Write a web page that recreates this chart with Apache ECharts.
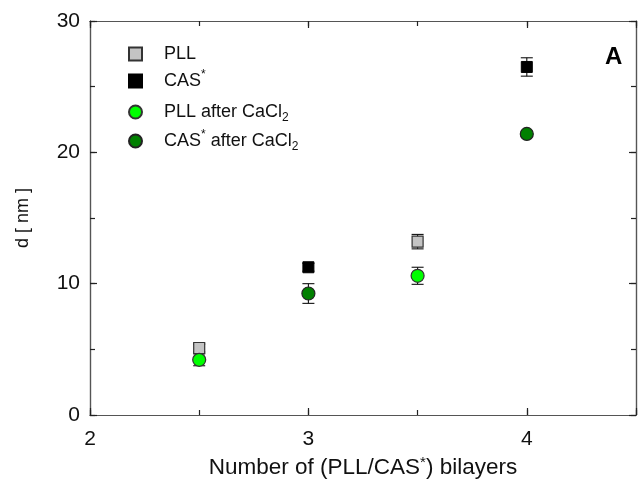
<!DOCTYPE html>
<html>
<head>
<meta charset="utf-8">
<script src="https://cdn.jsdelivr.net/npm/echarts@6/dist/echarts.min.js"></script>
<style>
  html, body { margin: 0; padding: 0; background: #fff; }
  #chart { width: 641px; height: 490px; }
</style>
</head>
<body>
<div id="chart"></div>
<script>
// Layer thickness d versus number of bilayers, before and after CaCl2 treatment
const seriesNames = ['PLL', 'CAS*', 'PLL after CaCl2', 'CAS* after CaCl2'];

const pllX = [2.5, 3.5];
const pllD = [5.1, 13.2];
const pllErr = [0.3, 0.55];

const casX = [3, 4];
const casD = [11.25, 26.5];
const casErr = [0.3, 0.7];

const pllCaX = [2.5, 3.5];
const pllCaD = [4.2, 10.6];
const pllCaErr = [0.45, 0.65];

const casCaX = [3, 4];
const casCaD = [9.25, 21.4];
const casCaErr = [0.75, 0.2];

const xTicks = [2, 3, 4];
const yTicks = [0, 10, 20, 30];

const FONT = 'Liberation Sans, Arial, sans-serif';
const FRAME_COLOR = '#555';
const TICK_COLOR = '#222';

function points(xs, ys) { return xs.map((x, i) => [x, ys[i]]); }
function errRows(xs, ys, es) { return xs.map((x, i) => [x, ys[i], es[i]]); }

// error bars with caps, drawn from the same values as the markers
function errorBarSeries(rows) {
  return {
    type: 'custom',
    z: 1,
    silent: true,
    data: rows,
    renderItem: function (params, api) {
      const x = api.value(0), y = api.value(1), e = api.value(2);
      const top = api.coord([x, y + e]);
      const bot = api.coord([x, y - e]);
      const hw = 6;
      const style = { stroke: '#111', lineWidth: 1.1 };
      return {
        type: 'group',
        children: [
          { type: 'line', shape: { x1: top[0], y1: top[1], x2: bot[0], y2: bot[1] }, style: style },
          { type: 'line', shape: { x1: top[0] - hw, y1: top[1], x2: top[0] + hw, y2: top[1] }, style: style },
          { type: 'line', shape: { x1: bot[0] - hw, y1: bot[1], x2: bot[0] + hw, y2: bot[1] }, style: style }
        ]
      };
    }
  };
}

const legendRich = {
  n: { fontSize: 18, fontFamily: FONT, color: '#111', lineHeight: 24, verticalAlign: 'middle' },
  sup: { fontSize: 12, fontFamily: FONT, color: '#111', lineHeight: 24, verticalAlign: 'top' },
  sub: { fontSize: 12, fontFamily: FONT, color: '#111', lineHeight: 24, verticalAlign: 'bottom' }
};

const legendLabels = {
  'PLL': '{n|PLL}',
  'CAS*': '{n|CAS}{sup|*}',
  'PLL after CaCl2': '{n|PLL after CaCl}{sub|2}',
  'CAS* after CaCl2': '{n|CAS}{sup|*}{n| after CaCl}{sub|2}'
};
// row tops, tuned so the rows sit at an even pitch
const legendRowTops = [45, 69, 103, 129];

// one legend block per row
const legends = seriesNames.map((name, i) => ({
  orient: 'vertical',
  left: 128,
  top: legendRowTops[i],
  padding: 0,
  itemWidth: 13,
  itemHeight: 13,
  data: [name],
  formatter: function (n) { return legendLabels[n]; },
  textStyle: { rich: legendRich, padding: [0, 0, 0, 17] }
}));

// frame axes: one set carries the labels and major ticks, one set the half-step ticks
function frameAxis(kind, position, interval, tickLen, withLabels) {
  const isX = kind === 'x';
  const ax = {
    type: 'value',
    position: position,
    min: isX ? 2 : 0,
    max: isX ? 4.5 : 30,
    interval: interval,
    axisLine: { show: true, onZero: false, lineStyle: { color: FRAME_COLOR, width: 1.2 } },
    axisTick: { show: true, inside: true, length: tickLen, lineStyle: { color: TICK_COLOR, width: 1.2 } },
    splitLine: { show: false },
    axisLabel: { show: false }
  };
  if (withLabels) {
    const allowed = isX ? xTicks : yTicks;
    ax.axisLabel = {
      show: true, fontSize: 21, fontFamily: FONT, color: '#111',
      margin: isX ? 14 : 10, showMinLabel: true, showMaxLabel: true,
      formatter: function (v) { return allowed.indexOf(v) >= 0 ? String(v) : ''; }
    };
  }
  return ax;
}

const xMain = frameAxis('x', 'bottom', 1, 7, true);
xMain.name = '{n|Number of (PLL/CAS}{sup|*}{n|) bilayers}';
xMain.nameLocation = 'middle';
xMain.nameGap = 38;
xMain.nameTextStyle = {
  rich: {
    n: { fontSize: 22.5, fontFamily: FONT, color: '#111', lineHeight: 26, verticalAlign: 'middle' },
    sup: { fontSize: 15, fontFamily: FONT, color: '#111', lineHeight: 26, verticalAlign: 'top' }
  }
};

const yMain = frameAxis('y', 'left', 10, 7, true);
yMain.name = 'd [ nm ]';
yMain.nameLocation = 'middle';
yMain.nameGap = 58;
yMain.nameTextStyle = { fontSize: 18, fontFamily: FONT, color: '#111' };

const option = {
  backgroundColor: '#fff',
  animation: false,
  grid: { left: 90, right: 5, top: 21, bottom: 75 },
  legend: legends,
  xAxis: [
    xMain,
    frameAxis('x', 'bottom', 0.5, 5, false),
    frameAxis('x', 'top', 1, 7, false),
    frameAxis('x', 'top', 0.5, 5, false)
  ],
  yAxis: [
    yMain,
    frameAxis('y', 'left', 5, 5, false),
    frameAxis('y', 'right', 10, 7, false),
    frameAxis('y', 'right', 5, 5, false)
  ],
  graphic: [
    {
      type: 'text', left: 605, top: 45,
      style: { text: 'A', font: 'bold 24px ' + FONT, fill: '#000' }
    }
  ],
  series: [
    errorBarSeries(errRows(pllX, pllD, pllErr)),
    errorBarSeries(errRows(casX, casD, casErr)),
    errorBarSeries(errRows(pllCaX, pllCaD, pllCaErr)),
    errorBarSeries(errRows(casCaX, casCaD, casCaErr)),
    {
      name: 'PLL', type: 'scatter', z: 3, symbol: 'rect', symbolSize: 11,
      itemStyle: { color: '#c4c4c4', borderColor: '#333', borderWidth: 1.2, opacity: 1 },
      data: points(pllX, pllD)
    },
    {
      name: 'CAS*', type: 'scatter', z: 3, symbol: 'rect', symbolSize: 11,
      itemStyle: { color: '#000', borderColor: '#000', borderWidth: 1, opacity: 1 },
      data: points(casX, casD)
    },
    {
      name: 'PLL after CaCl2', type: 'scatter', z: 4, symbol: 'circle', symbolSize: 13,
      itemStyle: { color: '#00ff00', borderColor: '#333', borderWidth: 1.2, opacity: 1 },
      data: points(pllCaX, pllCaD)
    },
    {
      name: 'CAS* after CaCl2', type: 'scatter', z: 4, symbol: 'circle', symbolSize: 13,
      itemStyle: { color: '#008000', borderColor: '#222', borderWidth: 1.2, opacity: 1 },
      data: points(casCaX, casCaD)
    }
  ]
};

const chart = echarts.init(document.getElementById('chart'), null, { renderer: 'canvas' });
chart.setOption(option);
</script>
</body>
</html>
